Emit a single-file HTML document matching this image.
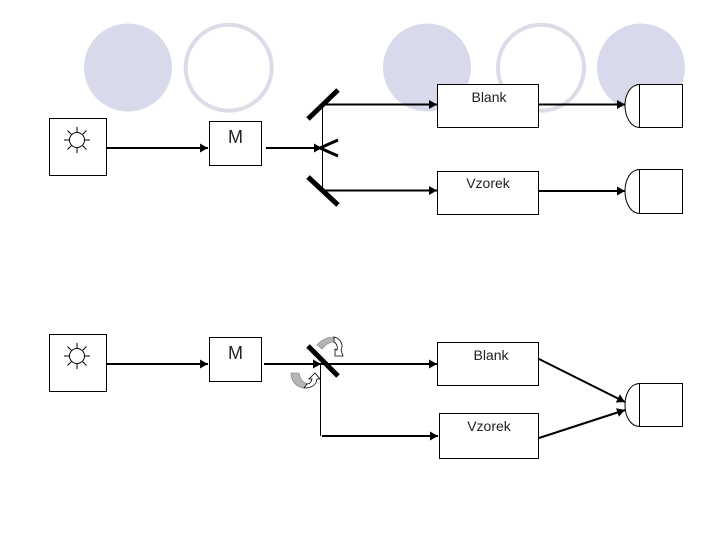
<!DOCTYPE html>
<html>
<head>
<meta charset="utf-8">
<style>
html,body{margin:0;padding:0;background:#fff;}
svg{display:block;}
text{font-family:"Liberation Sans",sans-serif;fill:#222;}
</style>
</head>
<body>
<svg width="720" height="540" viewBox="0 0 720 540" xmlns="http://www.w3.org/2000/svg">
<defs>
<marker id="a" markerUnits="userSpaceOnUse" markerWidth="9" markerHeight="10" refX="8" refY="5" orient="auto">
<path d="M0,0.5 L8,5 L0,9.5 Z" fill="#000"/>
</marker>
<g id="sun" stroke="#000" stroke-width="1" fill="none">
<circle cx="0" cy="0" r="7.5"/>
<path d="M-13,0H-8M8,0H13M0,-13V-8M0,8V13M-9.5,-9.5L-5.5,-5.5M9.5,-9.5L5.5,-5.5M-9.5,9.5L-5.5,5.5M9.5,9.5L5.5,5.5"/>
</g>
</defs>
<rect width="720" height="540" fill="#fff"/>

<!-- background circles -->
<circle cx="128" cy="67.5" r="44" fill="#d9d9ec"/>
<circle cx="228.7" cy="67.7" r="43" fill="#fff" stroke="#dcdce9" stroke-width="4"/>
<circle cx="427" cy="67.5" r="44" fill="#d9d9ec"/>
<circle cx="541" cy="67.7" r="43" fill="#fff" stroke="#dcdce9" stroke-width="4"/>
<circle cx="641" cy="67.5" r="44" fill="#d9d9ec"/>

<g fill="#fff" stroke="#000" stroke-width="1">
<!-- top row -->
<rect x="49.5" y="118.5" width="57" height="57"/>
<rect x="209.5" y="121.5" width="52" height="44"/>
<rect x="437.5" y="84.5" width="101" height="43"/>
<rect x="437.5" y="171.5" width="101" height="43"/>
<path d="M639.5,84.5 C630,85 625,95 625,105.5 C625,116 630,127 639.5,127.5 Z"/>
<rect x="639.5" y="84.5" width="43" height="43"/>
<path d="M639.5,169.5 C630,170 625,180 625,191 C625,202 630,213 639.5,213.5 Z"/>
<rect x="639.5" y="169.5" width="43" height="44"/>
<!-- bottom row -->
<rect x="49.5" y="334.5" width="57" height="57"/>
<rect x="209.5" y="337.5" width="52" height="44"/>
<rect x="437.5" y="342.5" width="101" height="43"/>
<rect x="439.5" y="413.5" width="99" height="45"/>
<path d="M639.5,383.5 C630,384 625,394 625,405 C625,416 630,426 639.5,426.5 Z"/>
<rect x="639.5" y="383.5" width="43" height="43"/>
</g>

<use href="#sun" x="77" y="140"/>
<use href="#sun" x="77" y="356"/>

<!-- thin verticals -->
<path d="M322.5,104V190" stroke="#000" stroke-width="1" fill="none"/>
<path d="M320.5,364V436" stroke="#000" stroke-width="1" fill="none"/>

<!-- arrows -->
<g stroke="#000" stroke-width="2" fill="none">
<path d="M107,148H208" marker-end="url(#a)"/>
<path d="M266,148H322" marker-end="url(#a)"/>
<path d="M323,104.5H437" marker-end="url(#a)"/>
<path d="M323,190.5H437" marker-end="url(#a)"/>
<path d="M539,104.5H625" marker-end="url(#a)"/>
<path d="M539,191H625" marker-end="url(#a)"/>
<path d="M107,364H208" marker-end="url(#a)"/>
<path d="M264,364H321" marker-end="url(#a)"/>
<path d="M321,364H437" marker-end="url(#a)"/>
<path d="M322,436H438" marker-end="url(#a)"/>
<path d="M539,359L625,402" marker-end="url(#a)"/>
<path d="M539,438L625,410" marker-end="url(#a)"/>
</g>

<!-- mirrors -->
<g stroke="#000" stroke-width="5" fill="none">
<path d="M308,119L338,90"/>
<path d="M308,177L338,205"/>
<path d="M308,346L338,376"/>
</g>
<g stroke="#000" stroke-width="3" fill="none">
<path d="M320,148L338,140"/>
<path d="M320,148L338,156"/>
</g>

<!-- rotation arrows -->
<path d="M317,345 C322,339 328,337 335,337 L334,342 C329,342 325,345 322,349 Z" fill="#b5b5b5" stroke="#777" stroke-width="0.6"/>
<path d="M334,337 C340,338 344,345 341,350 L343,356 L335,356 L335,349 L337,350 C338,346 336,343 334,342 Z" fill="#fff" stroke="#000" stroke-width="0.8"/>
<path d="M291,373 L299,373 C300,379 303,383 308,384 L304,388 C296,387 291,381 291,373 Z" fill="#b5b5b5" stroke="#777" stroke-width="0.6"/>
<path d="M304,388 C311,388 316,386 317,379 L320,379 L315,373 L309,379 L312,379 C311,383 309,384 307,384 Z" fill="#fff" stroke="#000" stroke-width="0.8"/>

<!-- labels -->
<text x="235.5" y="143" font-size="18" text-anchor="middle">M</text>
<text x="235.5" y="359" font-size="18" text-anchor="middle">M</text>
<text x="489" y="102" font-size="14" text-anchor="middle">Blank</text>
<text x="488" y="188" font-size="14" text-anchor="middle">Vzorek</text>
<text x="491" y="360" font-size="14" text-anchor="middle">Blank</text>
<text x="489" y="431" font-size="14" text-anchor="middle">Vzorek</text>
</svg>
</body>
</html>
